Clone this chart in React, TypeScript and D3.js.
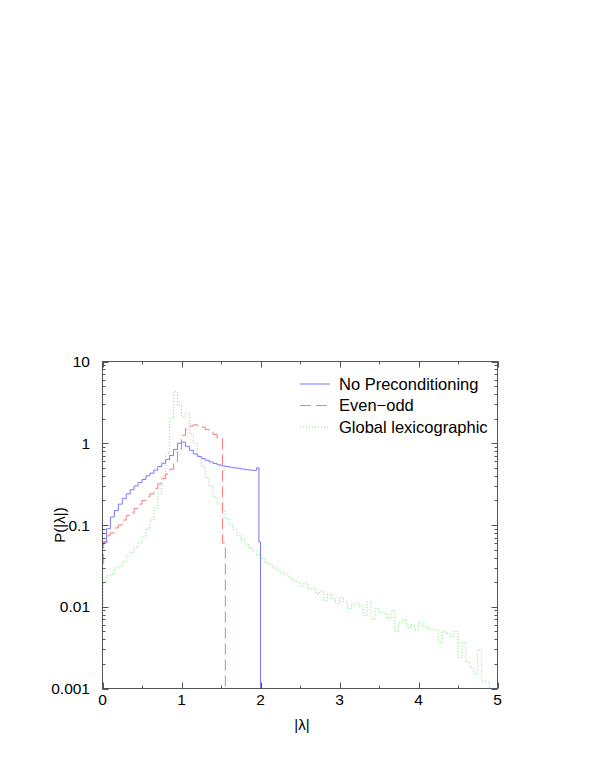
import React from "react";
import * as d3 from "d3";

// ---------- data ----------
const xTicks = [0, 1, 2, 3, 4, 5];
const yTicks = [0.001, 0.01, 0.1, 1, 10];
const yTickLabels = ["0.001", "0.01", "0.1", "1", "10"];

const seriesNames = ["No Preconditioning", "Even\u2212odd", "Global lexicographic"];

// No Preconditioning (step histogram: bin start x, value)
const blueX = [0, 0.05, 0.1, 0.15, 0.2, 0.25, 0.3, 0.35, 0.4, 0.45, 0.5, 0.55, 0.6, 0.65, 0.7, 0.75, 0.8, 0.85, 0.9, 0.95, 1.0, 1.05, 1.1, 1.15, 1.2, 1.25, 1.3, 1.35, 1.4, 1.45, 1.5, 1.55, 1.6, 1.65, 1.7, 1.75, 1.8, 1.85, 1.9, 1.95, 1.98, 2.0];
const blueY = [0.062, 0.09, 0.125, 0.15, 0.18, 0.21, 0.24, 0.27, 0.3, 0.33, 0.36, 0.4, 0.43, 0.47, 0.52, 0.57, 0.63, 0.71, 0.84, 1.0, 1.03, 0.92, 0.82, 0.74, 0.69, 0.65, 0.62, 0.59, 0.565, 0.545, 0.53, 0.52, 0.51, 0.5, 0.495, 0.485, 0.475, 0.47, 0.465, 0.5, 0.062, 0.001];

// Even-odd
const redX = [0, 0.015, 0.07, 0.1, 0.15, 0.2, 0.25, 0.3, 0.35, 0.4, 0.45, 0.5, 0.55, 0.6, 0.65, 0.7, 0.75, 0.8, 0.85, 0.9, 0.95, 1.0, 1.05, 1.1, 1.15, 1.2, 1.25, 1.3, 1.35, 1.4, 1.45, 1.52, 1.555];
const redY = [0.034, 0.062, 0.075, 0.08, 0.092, 0.1, 0.115, 0.13, 0.14, 0.16, 0.18, 0.2, 0.22, 0.24, 0.28, 0.32, 0.37, 0.42, 0.48, 0.6, 0.85, 1.25, 1.5, 1.62, 1.68, 1.65, 1.58, 1.47, 1.38, 1.28, 1.15, 0.06, 0.001];

// Global lexicographic
const greenX = [0, 0.01, 0.05, 0.1, 0.15, 0.2, 0.25, 0.3, 0.35, 0.4, 0.45, 0.5, 0.55, 0.6, 0.65, 0.7, 0.75, 0.8, 0.85, 0.9, 0.95, 1.0, 1.05, 1.1, 1.15, 1.2, 1.25, 1.3, 1.35, 1.4, 1.45, 1.5, 1.55, 1.6, 1.65, 1.7, 1.75, 1.8, 1.85, 1.9, 1.95, 2.0, 2.05, 2.1, 2.15, 2.2, 2.25, 2.3, 2.35, 2.4, 2.45, 2.5, 2.55, 2.6, 2.65, 2.7, 2.75, 2.8, 2.85, 2.9, 2.95, 3.0, 3.05, 3.1, 3.15, 3.2, 3.25, 3.3, 3.35, 3.4, 3.45, 3.5, 3.55, 3.6, 3.65, 3.7, 3.75, 3.8, 3.85, 3.9, 3.95, 4.0, 4.05, 4.1, 4.15, 4.2, 4.25, 4.3, 4.35, 4.4, 4.45, 4.5, 4.55, 4.6, 4.65, 4.7, 4.75, 4.8, 4.85, 4.9];
const greenY = [0.01, 0.02, 0.024, 0.025, 0.03, 0.031, 0.036, 0.042, 0.046, 0.053, 0.06, 0.072, 0.09, 0.115, 0.16, 0.24, 0.4, 0.75, 2.0, 4.3, 2.9, 2.1, 2.35, 1.3, 1.0, 0.7, 0.52, 0.38, 0.3, 0.22, 0.18, 0.15, 0.12, 0.1, 0.088, 0.075, 0.066, 0.058, 0.052, 0.047, 0.043, 0.039, 0.035, 0.033, 0.03, 0.028, 0.026, 0.025, 0.023, 0.021, 0.02, 0.018, 0.0195, 0.0165, 0.017, 0.0145, 0.0155, 0.012, 0.0143, 0.0125, 0.011, 0.013, 0.0115, 0.0095, 0.0105, 0.0112, 0.01, 0.0078, 0.0115, 0.007, 0.0095, 0.0085, 0.0083, 0.0072, 0.009, 0.005, 0.0064, 0.007, 0.0055, 0.006, 0.0052, 0.0065, 0.0057, 0.0055, 0.0053, 0.0052, 0.0036, 0.005, 0.0047, 0.0043, 0.005, 0.0024, 0.0037, 0.0021, 0.0018, 0.0015, 0.003, 0.0012, 0.0012, 0.001];

const colors = ["#7878ff", "#ff7878", "#6ee86e"];
const dashes = ["none", "11,5", "1,2"];

const W = 599;
const H = 776;
const left = 102.5, right = 497.5, top = 361.5, bottom = 688.5;

export default function App() {
  const x = d3.scaleLinear().domain([0, 5]).range([left, right]);
  const y = d3.scaleLog().domain([0.001, 10]).range([bottom, top]);

  const line = d3
    .line<[number, number]>()
    .x((d) => x(d[0]))
    .y((d) => y(Math.max(d[1], 0.001)))
    .curve(d3.curveStepAfter);

  const series = [
    blueX.map((v, i) => [v, blueY[i]] as [number, number]),
    redX.map((v, i) => [v, redY[i]] as [number, number]),
    greenX.map((v, i) => [v, greenY[i]] as [number, number]),
  ];

  const minorY: number[] = [];
  for (let e = -3; e < 1; e++) for (let k = 2; k <= 9; k++) minorY.push(k * Math.pow(10, e));
  const minorX = [0.5, 1.5, 2.5, 3.5, 4.5];

  const font = "'Liberation Sans', Arial, Helvetica, sans-serif";
  const axisColor = "#555";

  return (
    <svg width={W} height={H} style={{ position: "absolute", left: 0, top: 0, background: "#fff" }} fontFamily={font}>
      <defs>
        <clipPath id="plotclip">
          <rect x={left} y={top} width={right - left} height={bottom - top} />
        </clipPath>
      </defs>
      {/* series: draw green first so others are on top? keep order */}
      <g clipPath="url(#plotclip)">
        {[2, 1, 0].map((i) => (
          <path
            key={i}
            d={line(series[i]) || ""}
            fill="none"
            stroke={colors[i]}
            strokeWidth={1}
            strokeDasharray={dashes[i]}
          />
        ))}
      </g>
      {/* frame */}
      <rect x={left} y={top} width={right - left} height={bottom - top} fill="none" stroke={axisColor} strokeWidth={1} />
      {/* y ticks */}
      {yTicks.map((t, i) => (
        <g key={"y" + i}>
          <line x1={left} x2={left + 6} y1={Math.round(y(t)) + 0.5} y2={Math.round(y(t)) + 0.5} stroke={axisColor} />
          <line x1={right} x2={right - 6} y1={Math.round(y(t)) + 0.5} y2={Math.round(y(t)) + 0.5} stroke={axisColor} />
          <text x={90} y={y(t)} dy="0.36em" textAnchor="end" fontSize={15.5} fill="#000">
            {yTickLabels[i]}
          </text>
        </g>
      ))}
      {minorY.map((t, i) => (
        <g key={"ym" + i}>
          <line x1={left} x2={left + 3} y1={Math.round(y(t)) + 0.5} y2={Math.round(y(t)) + 0.5} stroke={axisColor} />
          <line x1={right} x2={right - 3} y1={Math.round(y(t)) + 0.5} y2={Math.round(y(t)) + 0.5} stroke={axisColor} />
        </g>
      ))}
      {/* x ticks */}
      {xTicks.map((t, i) => (
        <g key={"x" + i}>
          <line x1={Math.round(x(t)) + 0.5} x2={Math.round(x(t)) + 0.5} y1={bottom} y2={bottom - 6} stroke={axisColor} />
          <line x1={Math.round(x(t)) + 0.5} x2={Math.round(x(t)) + 0.5} y1={top} y2={top + 6} stroke={axisColor} />
          <text x={x(t)} y={705} textAnchor="middle" fontSize={15.5} fill="#000">
            {String(t)}
          </text>
        </g>
      ))}
      {minorX.map((t, i) => (
        <g key={"xm" + i}>
          <line x1={Math.round(x(t)) + 0.5} x2={Math.round(x(t)) + 0.5} y1={bottom} y2={bottom - 3} stroke={axisColor} />
          <line x1={Math.round(x(t)) + 0.5} x2={Math.round(x(t)) + 0.5} y1={top} y2={top + 3} stroke={axisColor} />
        </g>
      ))}
      {/* axis titles */}
      <text x={302} y={730} textAnchor="middle" fontSize={15} fill="#000">
        |λ|
      </text>
      <text transform="translate(65,525) rotate(-90)" textAnchor="middle" fontSize={15} fill="#000">
        P(|λ|)
      </text>
      {/* legend */}
      {seriesNames.map((name, i) => {
        const cy = 384 + i * 21.5;
        return (
          <g key={"l" + i}>
            <line x1={300} x2={330} y1={cy} y2={cy} stroke={colors[i]} strokeWidth={1} strokeDasharray={dashes[i]} />
            <text x={339} y={cy} dy="0.36em" fontSize={16.5} fill="#000">
              {name}
            </text>
          </g>
        );
      })}
    </svg>
  );
}
